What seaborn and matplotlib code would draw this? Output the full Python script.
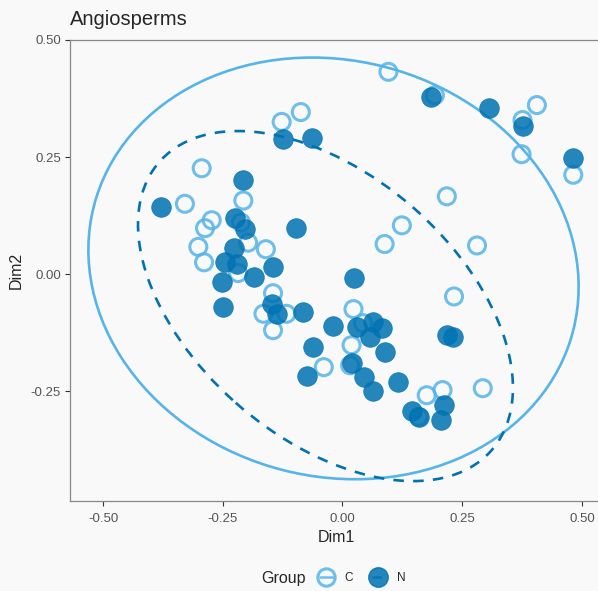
import numpy as np
import pandas as pd
import seaborn as sns
import matplotlib.pyplot as plt
from matplotlib.patches import Ellipse
from matplotlib.lines import Line2D

# points (Dim1, Dim2)
c_dim1 = [0.096, 0.193, 0.406, 0.376, 0.374, 0.482, 0.218, -0.087, -0.127, 0.124,
          0.088, 0.281, 0.233, 0.023, 0.043, 0.019, -0.039, 0.016, 0.176, 0.209,
          0.293, 0.159, -0.294, -0.329, -0.207, -0.273, -0.287, -0.301, -0.289, -0.197,
          -0.160, -0.218, -0.145, -0.165, -0.117, -0.145, -0.212]
c_dim2 = [0.432, 0.382, 0.361, 0.329, 0.256, 0.212, 0.166, 0.346, 0.325, 0.104,
          0.064, 0.061, -0.048, -0.075, -0.105, -0.152, -0.199, -0.195, -0.259, -0.248,
          -0.244, -0.305, 0.226, 0.150, 0.157, 0.115, 0.098, 0.058, 0.025, 0.067,
          0.053, 0.002, -0.041, -0.085, -0.085, -0.120, 0.110]
n_dim1 = [0.185, 0.305, 0.376, 0.481, -0.063, -0.125, -0.096, 0.024, 0.218, 0.230,
          -0.083, -0.136, -0.020, 0.030, 0.064, 0.082, 0.057, -0.061, 0.089, -0.075,
          0.019, 0.045, 0.064, 0.117, 0.145, 0.159, 0.211, 0.205, -0.207, -0.378,
          -0.225, -0.204, -0.227, -0.245, -0.221, -0.185, -0.145, -0.252, -0.250, -0.148]
n_dim2 = [0.379, 0.355, 0.316, 0.247, 0.290, 0.288, 0.099, -0.009, -0.130, -0.135,
          -0.081, -0.085, -0.111, -0.113, -0.102, -0.116, -0.134, -0.155, -0.166, -0.217,
          -0.191, -0.219, -0.251, -0.230, -0.293, -0.305, -0.280, -0.312, 0.201, 0.143,
          0.119, 0.096, 0.055, 0.026, 0.021, -0.006, 0.014, -0.018, -0.071, -0.064]

# 95% ellipses: centre, semi-axes, angle
c_ell = ((-0.0187, 0.0120), 0.518, 0.4435, -17.2)
n_ell = ((-0.0355, -0.0685), 0.464, 0.279, -42.2)

col_c = '#56B4E9'
col_n = '#0072B2'
bg = '#f9f9f9'

df = pd.DataFrame({
    'Dim1': c_dim1 + n_dim1,
    'Dim2': c_dim2 + n_dim2,
    'Group': ['C'] * len(c_dim1) + ['N'] * len(n_dim1),
})

sns.set_style('white')
plt.rcParams['font.family'] = ['Liberation Sans', 'DejaVu Sans']

fig = plt.figure(figsize=(5.98, 5.91), dpi=100, facecolor=bg)
ax = fig.add_axes([70 / 598, (591 - 501) / 591, (602 - 70) / 598, (501 - 40) / 591])
ax.set_facecolor(bg)

sns.scatterplot(data=df[df.Group == 'C'], x='Dim1', y='Dim2', ax=ax,
                facecolor='none', edgecolor=col_c, linewidth=2.2, s=150,
                alpha=0.85, zorder=3, legend=False)
sns.scatterplot(data=df[df.Group == 'N'], x='Dim1', y='Dim2', ax=ax,
                color=col_n, edgecolor=col_n, linewidth=0.5, s=200,
                alpha=0.85, zorder=3, legend=False)

for (ctr, a, b, ang), col, ls in [(c_ell, col_c, '-'), (n_ell, col_n, (0, (4, 3.5)))]:
    ax.add_patch(Ellipse(ctr, 2 * a, 2 * b, angle=ang, fill=False,
                         edgecolor=col, linewidth=1.9, linestyle=ls, zorder=2))

ax.set_xlim(-0.569, 0.542)
ax.set_ylim(-0.485, 0.5)
ax.set_xticks([-0.5, -0.25, 0, 0.25, 0.5])
ax.set_xticklabels(['-0.50', '-0.25', '0.00', '0.25', '0.50'])
ax.set_yticks([-0.25, 0, 0.25, 0.5])
ax.set_yticklabels(['-0.25', '0.00', '0.25', '0.50'])
ax.tick_params(axis='both', length=3.5, width=0.8, color='#333333',
               labelsize=9.5, labelcolor='#555555', pad=3)
ax.tick_params(axis='x', bottom=True, pad=5)
ax.tick_params(axis='y', left=True)
for side in ['left', 'bottom', 'top']:
    ax.spines[side].set_color('#888888')
    ax.spines[side].set_linewidth(0.9)
ax.spines['right'].set_visible(False)
ax.set_xlabel('Dim1', fontsize=11.5, labelpad=4)
ax.set_ylabel('Dim2', fontsize=11.5, labelpad=5)
ax.set_title('Angiosperms', loc='left', fontsize=14.5, pad=11)

# legend at the bottom with the title on the left
fig.text(284 / 598, 1 - 578 / 591, 'Group', fontsize=11.5, ha='center', va='center')
handles = [
    Line2D([], [], color=col_c, marker='o', mfc='none', mec=col_c, mew=2.2,
           ms=12.5, lw=1.8, alpha=0.85),
    Line2D([], [], color=col_n, marker='o', mfc=col_n, mec=col_n, ms=14,
           lw=1.8, ls='--', alpha=0.85),
]
fig.legend(handles, ['C', 'N'], loc='center left', ncol=2, frameon=False,
           bbox_to_anchor=(309 / 598, 1 - 578 / 591), handlelength=1.1,
           handletextpad=1.0, columnspacing=1.6, fontsize=8.5)

fig.savefig('out.png', dpi=100, facecolor=bg)
